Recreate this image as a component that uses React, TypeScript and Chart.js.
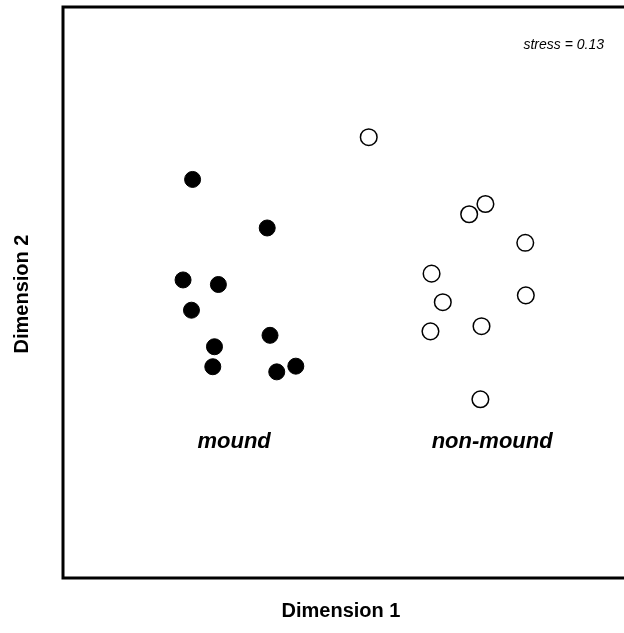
import React, { useEffect, useRef } from "react";
import { Chart, registerables } from "chart.js";

Chart.register(...registerables);

// Dimension 1 / Dimension 2 scores (arbitrary MDS units)
const moundX = [23.1, 36.4, 21.4, 27.7, 22.9, 36.9, 27.0, 26.7, 38.1, 41.5];
const moundY = [69.8, 61.3, 52.2, 51.4, 46.9, 42.5, 40.5, 37.0, 36.1, 37.1];
const nonMoundX = [54.5, 75.3, 72.4, 82.4, 65.7, 82.5, 67.7, 65.5, 74.6, 74.4];
const nonMoundY = [77.2, 65.5, 63.7, 58.7, 53.3, 49.5, 48.3, 43.2, 44.1, 31.3];

const groupLabels = ["mound", "non-mound"];
const groupLabelX = [30.5, 76.5];
const groupLabelY = [23.9, 23.9];
const stressText = "stress = 0.13";
const xTitle = "Dimension 1";
const yTitle = "Dimension 2";

const X_MIN = 0, X_MAX = 100, Y_MIN = 0, Y_MAX = 100;

const toPts = (xs: number[], ys: number[]) => xs.map((x, i) => ({ x, y: ys[i] }));

const decorPlugin = {
  id: "decor",
  afterDatasetsDraw(chart: any) {
    const { ctx, chartArea, scales } = chart;
    const { left, top, right, bottom } = chartArea;
    ctx.save();
    // frame (left, top, bottom)
    ctx.strokeStyle = "#000";
    ctx.lineWidth = 3;
    ctx.beginPath();
    ctx.moveTo(right + 2, top);
    ctx.lineTo(left, top);
    ctx.lineTo(left, bottom);
    ctx.lineTo(right + 2, bottom);
    ctx.stroke();

    ctx.fillStyle = "#000";
    // stress
    ctx.font = "italic 14px 'Liberation Sans', Arial, sans-serif";
    ctx.textAlign = "right";
    ctx.textBaseline = "middle";
    ctx.fillText(stressText, 604, 45);

    // group labels
    ctx.font = "italic bold 22px 'Liberation Sans', Arial, sans-serif";
    ctx.textAlign = "center";
    groupLabels.forEach((t, i) => {
      ctx.fillText(t, scales.x.getPixelForValue(groupLabelX[i]), scales.y.getPixelForValue(groupLabelY[i]));
    });

    // axis titles
    ctx.font = "bold 20px 'Liberation Sans', Arial, sans-serif";
    ctx.fillText(xTitle, 341, 611);
    ctx.translate(22, 294);
    ctx.rotate(-Math.PI / 2);
    ctx.fillText(yTitle, 0, 0);
    ctx.restore();
  },
};

export default function App() {
  const ref = useRef<HTMLCanvasElement | null>(null);
  useEffect(() => {
    if (!ref.current) return;
    const chart = new Chart(ref.current, {
      type: "scatter",
      data: {
        datasets: [
          {
            label: "mound",
            data: toPts(moundX, moundY),
            backgroundColor: "#000",
            borderColor: "#000",
            borderWidth: 1,
            pointRadius: 8,
          },
          {
            label: "non-mound",
            data: toPts(nonMoundX, nonMoundY),
            backgroundColor: "#fff",
            borderColor: "#000",
            borderWidth: 1.5,
            pointRadius: 8.3,
          },
        ],
      },
      options: {
        animation: false,
        responsive: false,
        layout: { autoPadding: false, padding: { left: 63, top: 7, right: 0, bottom: 55 } },
        plugins: { legend: { display: false }, tooltip: { enabled: false } },
        scales: {
          x: { type: "linear", min: X_MIN, max: X_MAX, display: false },
          y: { type: "linear", min: Y_MIN, max: Y_MAX, display: false },
        },
      },
      plugins: [decorPlugin],
    });
    return () => chart.destroy();
  }, []);
  return (
    <div style={{ position: "fixed", left: 0, top: 0, width: 624, height: 633, background: "#fff", overflow: "hidden" }}>
      <canvas ref={ref} width={624} height={633} style={{ display: "block", width: 624, height: 633 }} />
    </div>
  );
}
